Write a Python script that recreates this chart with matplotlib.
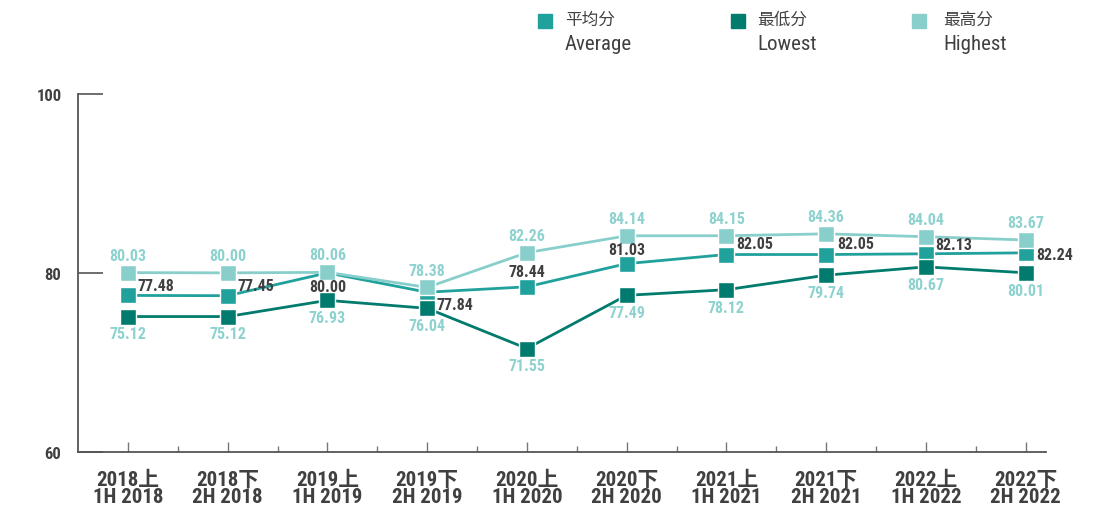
import matplotlib
matplotlib.use("Agg")
import matplotlib.pyplot as plt
from matplotlib import font_manager
from matplotlib.lines import Line2D

# Data
periods_cn = ["2018上", "2018下", "2019上", "2019下", "2020上",
              "2020下", "2021上", "2021下", "2022上", "2022下"]
periods_en = ["1H 2018", "2H 2018", "1H 2019", "2H 2019", "1H 2020",
              "2H 2020", "1H 2021", "2H 2021", "1H 2022", "2H 2022"]
average = [77.48, 77.45, 80.00, 77.84, 78.44, 81.03, 82.05, 82.05, 82.13, 82.24]
lowest = [75.12, 75.12, 76.93, 76.04, 71.55, 77.49, 78.12, 79.74, 80.67, 80.01]
highest = [80.03, 80.00, 80.06, 78.38, 82.26, 84.14, 84.15, 84.36, 84.04, 83.67]

# Colours
c_avg = "#20a19b"
c_low = "#017b6e"
c_high = "#88cfcc"
c_lab = "#8ed2cf"
c_txt = "#404040"

# look for a narrow font (the original uses a condensed face)
narrow_name, narrow_stretch = "Liberation Sans", "normal"
for f in font_manager.fontManager.ttflist:
    fn = f.fname.lower()
    if "narrow" in fn or "condensed" in fn:
        narrow_name, narrow_stretch = f.name, f.stretch
        if "liberation" in fn:
            break

plt.rcParams["font.family"] = [narrow_name, "Noto Sans CJK SC", "DejaVu Sans"]
plt.rcParams["font.stretch"] = narrow_stretch

fig = plt.figure(figsize=(11.07, 5.10), dpi=100)
ax = fig.add_axes([0.0705, 0.112, 0.874, 0.702])

x = list(range(len(periods_cn)))
mk = dict(marker="s", markersize=11.5, markeredgecolor="white", markeredgewidth=1, lw=2)
ax.plot(x, average, color=c_avg, zorder=3, **mk)
ax.plot(x, lowest, color=c_low, zorder=4, **mk)
ax.plot(x, highest, color=c_high, zorder=5, **mk)

# label offsets (points) and alignment for the average series
avg_off = [(7, 7), (7, 7), (0, -10), (7, -9), (0, 11),
           (0, 10), (7, 8), (8, 8), (7, 7), (8, -1)]
avg_ha = ["left", "left", "center", "left", "center",
          "center", "left", "left", "left", "left"]

for i in x:
    ax.annotate(f"{highest[i]:.2f}", (i, highest[i]), xytext=(0, 12.5),
                textcoords="offset points", ha="center", va="center",
                color=c_lab, fontsize=11.5, fontweight="bold")
    ax.annotate(f"{lowest[i]:.2f}", (i, lowest[i]), xytext=(0, -12.5),
                textcoords="offset points", ha="center", va="center",
                color=c_lab, fontsize=11.5, fontweight="bold")
    dx, dy = avg_off[i]
    ax.annotate(f"{average[i]:.2f}", (i, average[i]), xytext=(dx, dy),
                textcoords="offset points", ha=avg_ha[i], va="center",
                color=c_txt, fontsize=11.5, fontweight="bold", zorder=6)

ax.set_xlim(-0.5, 9.2)
ax.set_ylim(60, 100)
ax.set_yticks([60, 80, 100])
ax.set_yticklabels(["60", "80", "100"], fontsize=12, fontweight="bold", color=c_txt)
ax.tick_params(axis="y", direction="in", length=18, width=1.2, color="#555555", pad=12)

ax.set_xticks(x)
ax.set_xticklabels([f"{a}\n{b}" for a, b in zip(periods_cn, periods_en)],
                   fontsize=15, fontweight="bold", color=c_txt, linespacing=0.85)
ax.set_xticks([i + 0.5 for i in x[:-1]], minor=True)
ax.tick_params(axis="x", which="major", direction="in", length=7, width=1, color="#777777", pad=13)
ax.tick_params(axis="x", which="minor", direction="in", length=4, width=1, color="#777777")

for s in ["top", "right"]:
    ax.spines[s].set_visible(False)
for s in ["left", "bottom"]:
    ax.spines[s].set_color("#555555")
    ax.spines[s].set_linewidth(1.3)

# Legend drawn by hand
legend = [("平均分", "Average", c_avg, 545, 565),
          ("最低分", "Lowest", c_low, 738, 757),
          ("最高分", "Highest", c_high, 919, 943)]
W, H = 1107, 510
for cn, en, col, mx, tx in legend:
    fig.add_artist(Line2D([mx / W], [1 - 22 / H], marker="s", markersize=10,
                          color=col, markeredgecolor=col, transform=fig.transFigure))
    fig.text(tx / W, 1 - 20 / H, cn, fontsize=12, color=c_txt, va="center", ha="left")
    fig.text(tx / W, 1 - 44 / H, en, fontsize=15, color=c_txt, va="center", ha="left")

fig.savefig("out.png", dpi=100)
